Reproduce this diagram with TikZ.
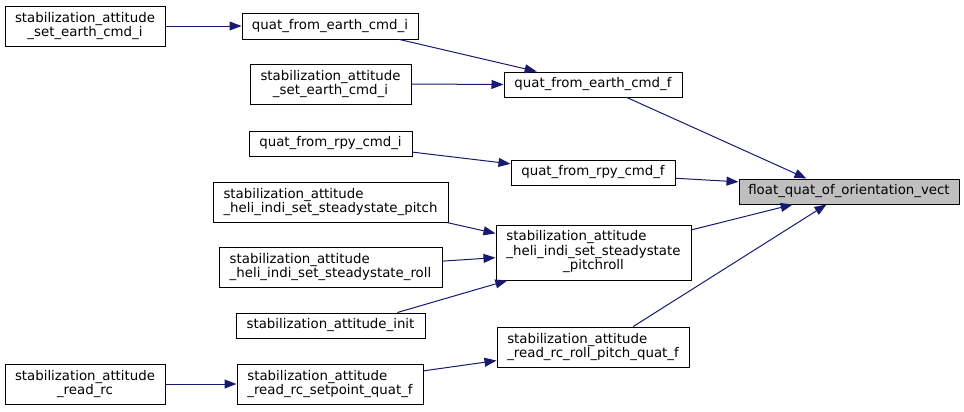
\documentclass[tikz,border=0pt]{standalone}
\usepackage{fontspec}
\setmainfont{DejaVu Sans}
\usetikzlibrary{arrows.meta,calc}
\definecolor{EdgeClr}{rgb}{0.098,0.098,0.439}
\definecolor{RootClr}{rgb}{0.75,0.75,0.75}

\tikzset{
  fnbox/.style 2 args={draw=black,line width=.75pt,inner sep=0pt,
    minimum width=#1*0.75pt,minimum height=#2*0.75pt,
    font=\fontsize{10}{10.9}\selectfont},
  call/.style={draw=EdgeClr,line width=.75pt,
    -{Triangle[length=9pt,width=6.7pt,fill=EdgeClr]}}
}

\begin{document}
\begin{tikzpicture}[x=0.75pt,y=-0.75pt]
\useasboundingbox (0,0) rectangle (964,411);

% callers, left column
\node[fnbox={160}{40},align=center] (secA) at (85,26) {stabilization\_attitude\\\_set\_earth\_cmd\_i};
\node[fnbox={160}{40},align=center] (readrc) at (85,384) {stabilization\_attitude\\\_read\_rc};

% middle column
\node[fnbox={176}{26}] (qfeci) at (330,26) {quat\_from\_earth\_cmd\_i};
\node[fnbox={161}{40},align=center] (secB) at (330.5,84) {stabilization\_attitude\\\_set\_earth\_cmd\_i};
\node[fnbox={163}{25}] (qfrci) at (330.5,143.5) {quat\_from\_rpy\_cmd\_i};
\node[fnbox={235}{40},align=left] (pitch) at (330.5,202) {stabilization\_attitude\\\_heli\_indi\_set\_steadystate\_pitch};
\node[fnbox={223}{40},align=left] (roll) at (330.5,267) {stabilization\_attitude\\\_heli\_indi\_set\_steadystate\_roll};
\node[fnbox={189}{25}] (init) at (330.5,325.5) {stabilization\_attitude\_init};
\node[fnbox={186}{40},align=left] (setpoint) at (330,384) {stabilization\_attitude\\\_read\_rc\_setpoint\_quat\_f};

% right column
\node[fnbox={178}{25}] (qfecf) at (593,84.5) {quat\_from\_earth\_cmd\_f};
\node[fnbox={164}{25}] (qfrcf) at (593,172.5) {quat\_from\_rpy\_cmd\_f};
\node[fnbox={195}{55}] (pitchroll) at (593.5,252.5)
  {\begin{tabular}{@{}l@{}}stabilization\_attitude\\\_heli\_indi\_set\_steadystate\\\multicolumn{1}{@{}c@{}}{\_pitchroll}\end{tabular}};
\node[fnbox={192}{40},align=left] (rollpitch) at (593,347) {stabilization\_attitude\\\_read\_rc\_roll\_pitch\_quat\_f};

% the function itself
\node[fnbox={220}{25},fill=RootClr] (fquat) at (849,191.5) {float\_quat\_of\_orientation\_vect};

\draw[call] (secA.east) -- (qfeci.west);
\draw[call] (qfeci.-11.8) -- (qfecf.167.4);
\draw[call] (secB.east) -- (qfecf.west);
\draw[call] (qfecf.-21.3) -- (fquat.163);
\draw[call] (qfrci.-6.7) -- (qfrcf.174.8);
\draw[call] (qfrcf.-4.5) -- (fquat.175.6);
\draw[call] (pitchroll.13.7) -- (fquat.193);
\draw[call] (rollpitch.27.2) -- (fquat.210.8);
\draw[call] (pitch.-10.8) -- (pitchroll.169.3);
\draw[call] (roll.3.1) -- (pitchroll.183.8);
\draw[call] (init.11.3) -- (pitchroll.198.4);
\draw[call] (setpoint.8) -- (rollpitch.188.3);
\draw[call] (readrc.east) -- (setpoint.west);

\end{tikzpicture}
\end{document}
